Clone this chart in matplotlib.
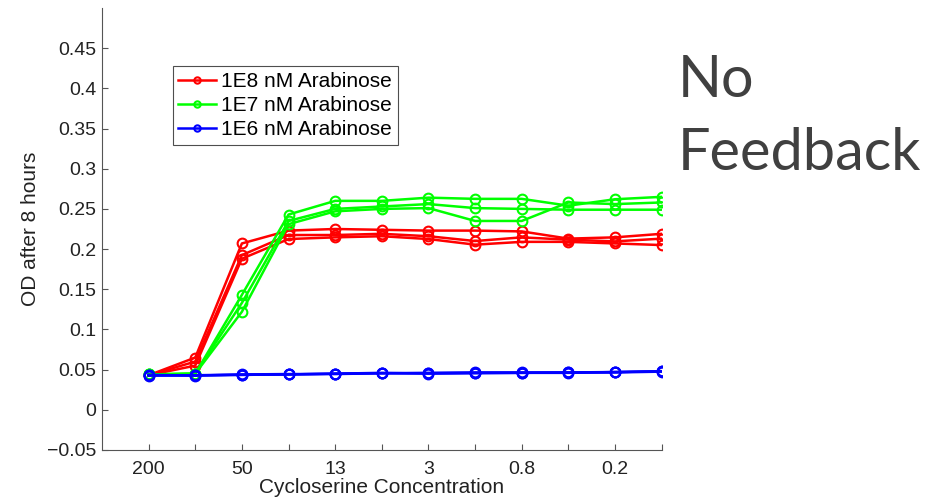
import matplotlib
matplotlib.use('Agg')
import matplotlib.pyplot as plt
import numpy as np

# cycloserine dilution series (only every other one is labelled)
conc_labels = ['200', '', '50', '', '13', '', '3', '', '0.8', '', '0.2', '']

# OD after 8 hours, three replicates per arabinose level
red_reps = [
    [0.043, 0.065, 0.207, 0.223, 0.225, 0.224, 0.223, 0.223, 0.222, 0.213, 0.2146, 0.219],
    [0.043, 0.060, 0.1925, 0.2175, 0.2175, 0.219, 0.216, 0.210, 0.2146, 0.2117, 0.2096, 0.213],
    [0.043, 0.055, 0.188, 0.2125, 0.2146, 0.216, 0.2125, 0.2055, 0.209, 0.209, 0.207, 0.205],
]
green_reps = [
    [0.044, 0.045, 0.143, 0.243, 0.260, 0.260, 0.264, 0.2625, 0.2625, 0.254, 0.262, 0.265],
    [0.044, 0.045, 0.133, 0.235, 0.250, 0.253, 0.256, 0.251, 0.250, 0.249, 0.249, 0.249],
    [0.044, 0.045, 0.122, 0.231, 0.247, 0.250, 0.251, 0.235, 0.235, 0.258, 0.256, 0.258],
]
blue_reps = [
    [0.043, 0.043, 0.0435, 0.044, 0.045, 0.0455, 0.0455, 0.046, 0.046, 0.046, 0.047, 0.048],
    [0.0435, 0.0425, 0.044, 0.0445, 0.0445, 0.0455, 0.046, 0.0465, 0.0465, 0.0465, 0.0465, 0.0475],
    [0.0425, 0.043, 0.0435, 0.044, 0.045, 0.046, 0.045, 0.0455, 0.046, 0.0465, 0.047, 0.048],
]
series_names = ['1E8 nM Arabinose', '1E7 nM Arabinose', '1E6 nM Arabinose']
series_colors = ['#ff0000', '#00ff00', '#0000ff']

plt.rcParams['font.family'] = ['Liberation Sans', 'DejaVu Sans']

fig = plt.figure(figsize=(9.38, 4.99), dpi=100)
ax = fig.add_axes([0.1087, 0.0982, 0.7054 - 0.1087, 0.984 - 0.0982])

x = np.arange(len(conc_labels))
handles = []
for reps, name, col in zip([red_reps, green_reps, blue_reps], series_names, series_colors):
    for i, r in enumerate(reps):
        ln, = ax.plot(x, r, color=col, lw=1.8, marker='o', ms=7, mfc='none',
                      mew=1.5, label=name if i == 0 else None)
        if i == 0:
            handles.append(ln)

ax.set_xlim(-1, 11)
ax.set_ylim(-0.05, 0.5)
ax.set_xticks(x)
ax.set_xticklabels(conc_labels)
ax.set_yticks(np.arange(-0.05, 0.451, 0.05))
ax.set_yticklabels(['\u22120.05', '0', '0.05', '0.1', '0.15', '0.2', '0.25', '0.3',
                    '0.35', '0.4', '0.45'])
ax.tick_params(direction='in', length=4, width=0.8, color='#555555',
               labelsize=14, pad=4, labelcolor='#222222')
ax.tick_params(axis='x', pad=8)
for s in ['top', 'right']:
    ax.spines[s].set_visible(False)
for s in ['left', 'bottom']:
    ax.spines[s].set_color('#555555')
    ax.spines[s].set_linewidth(0.8)

ax.set_xlabel('Cycloserine Concentration', fontsize=15, color='#222222', labelpad=0)
ax.set_ylabel('OD after 8 hours', fontsize=15, color='#222222', labelpad=5)

leg = ax.legend(handles=handles, loc='upper left', bbox_to_anchor=(172.5 / 938, 1 - 66 / 499),
                bbox_transform=fig.transFigure, fontsize=15, frameon=True, fancybox=False,
                handlelength=1.8, handletextpad=0.25, borderpad=0.28, labelspacing=0.25,
                borderaxespad=0, markerscale=0.65)
leg.get_frame().set_edgecolor('#222222')
leg.get_frame().set_linewidth(0.8)

fig.text(678 / 938, 1 - 97 / 499, 'No', fontsize=41.5, family='Lato',
         color='#404040', va='baseline')
fig.text(678 / 938, 1 - 170 / 499, 'Feedback', fontsize=41.5, family='Lato',
         color='#404040', va='baseline')

fig.savefig('out.png', dpi=100)
